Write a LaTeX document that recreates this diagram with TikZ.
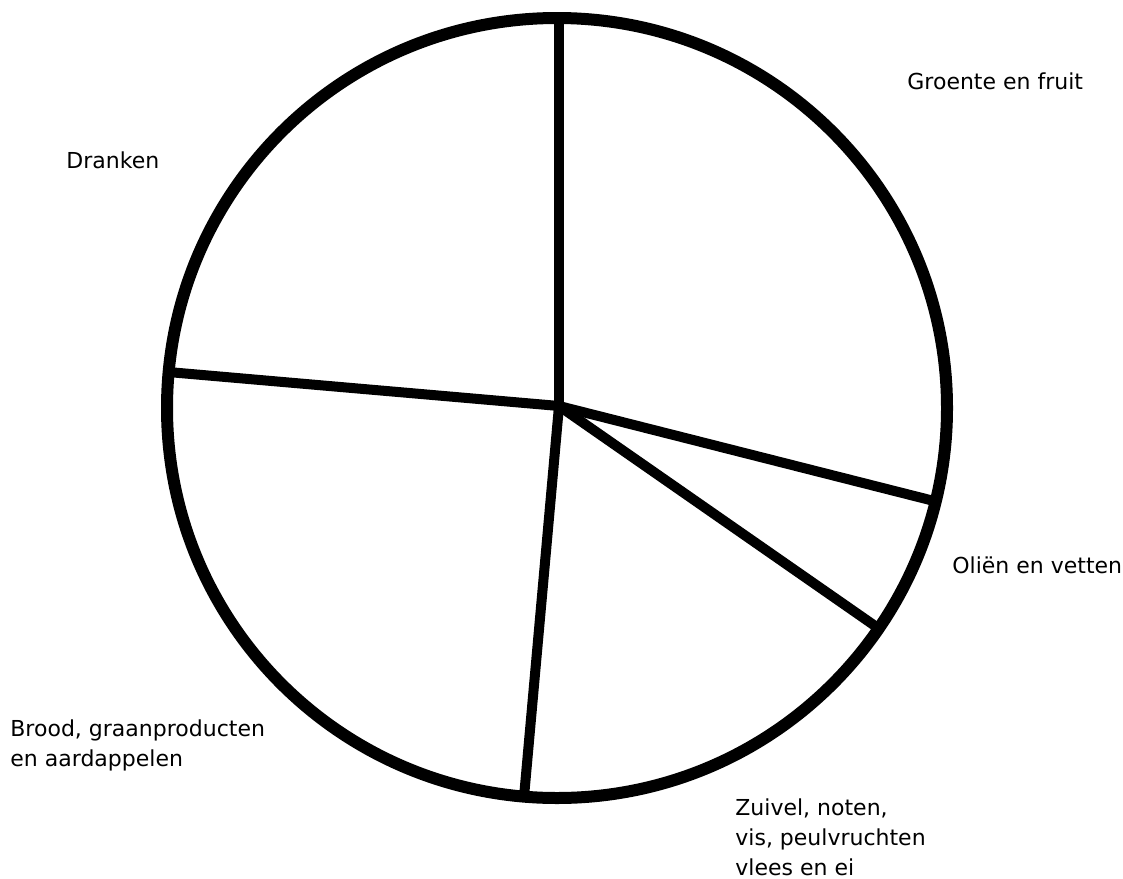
\documentclass[tikz,border=0pt]{standalone}
\usepackage{fontspec}
\setmainfont{DejaVu Sans}
\begin{document}
\begin{tikzpicture}[x=0.5pt,y=-0.5pt,
  rim/.style={line width=6pt},
  spoke/.style={line width=5pt},
  lbl/.style={anchor=north west,inner sep=0pt,align=left,font=\fontsize{11pt}{15pt}\selectfont}]
\useasboundingbox (0,0) rectangle (1123,878);
\coordinate (c) at (559,406);
\coordinate (t) at (559,17);
\coordinate (o1) at (938,502);
\coordinate (o2) at (878,628);
\coordinate (b) at (524,797);
\coordinate (l) at (168,372);
\foreach \e in {t,o1,o2,b,l} \draw[spoke] (c) -- (\e);
\draw[rim] (557,408) circle[radius=390];
\node[lbl] (gf) at (907,72) {Groente en fruit};
\node[lbl] (dr) at (66,151) {Dranken};
\node[lbl] (ov) at (952,556) {Oliën en vetten};
\node[lbl] (br) at (10,719) {Brood, graanproducten\\en aardappelen};
\node[lbl] (zu) at (735,798) {Zuivel, noten,\\vis, peulvruchten\\vlees en ei};
\end{tikzpicture}
\end{document}
